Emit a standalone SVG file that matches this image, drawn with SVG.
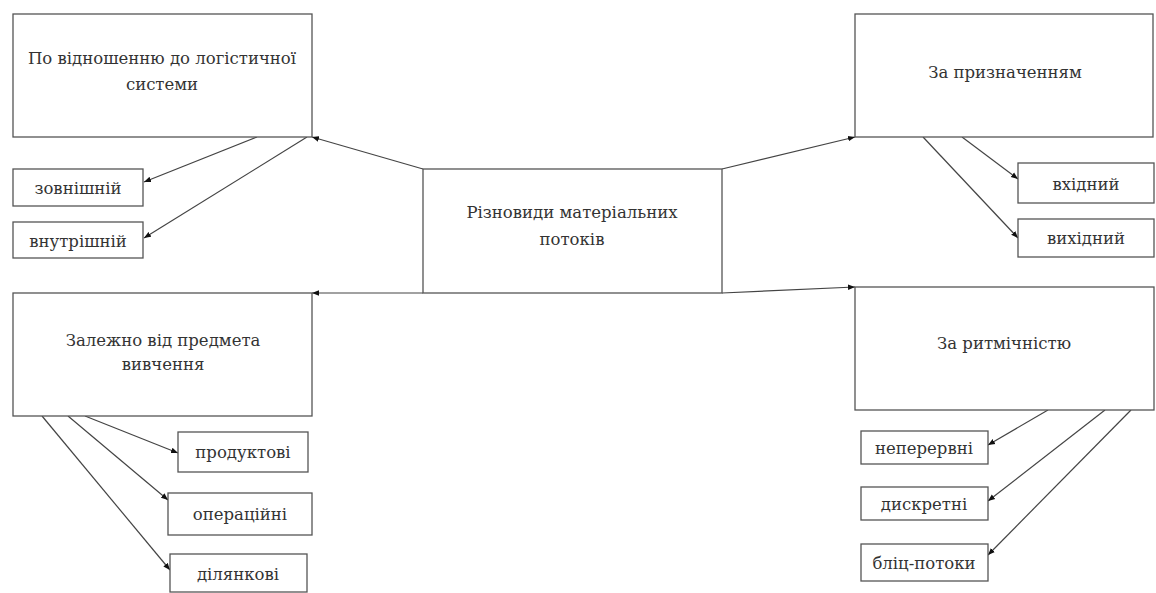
<svg xmlns="http://www.w3.org/2000/svg" width="1156" height="593" viewBox="0 0 1156 593">
<defs>
<style>
rect{fill:#fff;stroke:#555;stroke-width:1.3}
text{font-family:"DejaVu Serif","Liberation Serif",serif;font-size:16.5px;fill:#333;text-anchor:middle;dominant-baseline:central}
#connectors line{stroke:#444;stroke-width:1.2;marker-end:url(#ah)}
</style>
<marker id="ah" viewBox="0 0 10 10" refX="10" refY="5" markerWidth="7" markerHeight="7" markerUnits="userSpaceOnUse" orient="auto"><path d="M0,1 L10,5 L0,9 z" fill="#111"/></marker>
</defs>
<rect x="0" y="0" width="1156" height="593" style="fill:#fff;stroke:none"/>
<g id="connectors">
<line x1="423" y1="169" x2="312" y2="137"/>
<line x1="722" y1="169" x2="855" y2="137"/>
<line x1="423" y1="293" x2="312" y2="293"/>
<line x1="722" y1="293" x2="855" y2="287"/>
<line x1="257" y1="137" x2="144" y2="182"/>
<line x1="307" y1="137" x2="144" y2="238"/>
<line x1="962" y1="137" x2="1018" y2="179"/>
<line x1="923" y1="137" x2="1018" y2="238"/>
<line x1="85" y1="416" x2="178" y2="453"/>
<line x1="68" y1="416" x2="168" y2="500"/>
<line x1="42" y1="416" x2="170" y2="570"/>
<line x1="1048" y1="410" x2="988" y2="445"/>
<line x1="1105" y1="410" x2="988" y2="501"/>
<line x1="1131" y1="410" x2="988" y2="555"/>
</g>
<g id="center"><rect x="423" y="169" width="299" height="124"/><text x="572" y="212">Різновиди матеріальних</text><text x="572" y="239">потоків</text></g>
<g id="n-system"><rect x="13" y="14" width="299" height="123"/><text x="162" y="58">По відношенню до логістичної</text><text x="162" y="84">системи</text></g>
<g id="n-zovn"><rect x="13" y="169" width="130" height="37"/><text x="78" y="188">зовнішній</text></g>
<g id="n-vnutr"><rect x="13" y="222" width="130" height="36"/><text x="78" y="241">внутрішній</text></g>
<g id="n-pryzn"><rect x="855" y="14" width="298" height="123"/><text x="1005" y="72">За призначенням</text></g>
<g id="n-vkhid"><rect x="1018" y="163" width="136" height="40"/><text x="1086" y="184">вхідний</text></g>
<g id="n-vykhid"><rect x="1018" y="219" width="136" height="38"/><text x="1086" y="238">вихідний</text></g>
<g id="n-predmet"><rect x="13" y="293" width="299" height="123"/><text x="163" y="340">Залежно від предмета</text><text x="163" y="364">вивчення</text></g>
<g id="n-prod"><rect x="178" y="432" width="130" height="40"/><text x="243" y="452">продуктові</text></g>
<g id="n-oper"><rect x="168" y="493" width="144" height="42"/><text x="240" y="514">операційні</text></g>
<g id="n-dil"><rect x="170" y="554" width="137" height="38"/><text x="238" y="574">ділянкові</text></g>
<g id="n-rytm"><rect x="855" y="287" width="299" height="123"/><text x="1004" y="343">За ритмічністю</text></g>
<g id="n-neper"><rect x="861" y="431" width="127" height="33"/><text x="924" y="448">неперервні</text></g>
<g id="n-dyskr"><rect x="861" y="487" width="127" height="33"/><text x="924" y="504">дискретні</text></g>
<g id="n-blits"><rect x="861" y="544" width="127" height="37"/><text x="924" y="563">бліц-потоки</text></g>
</svg>
